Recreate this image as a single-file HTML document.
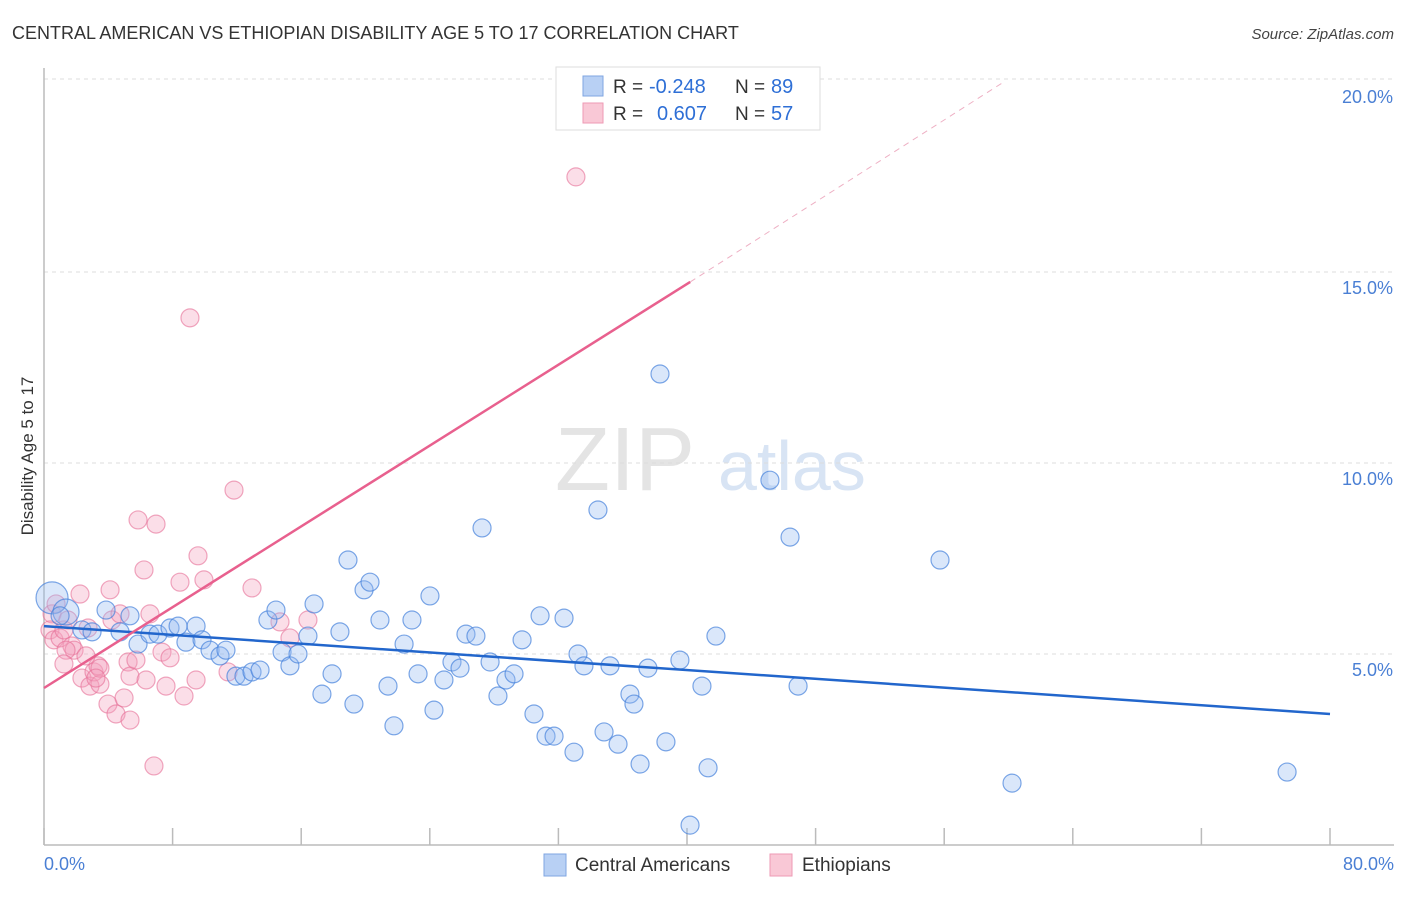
<!DOCTYPE html>
<html><head><meta charset="utf-8"><style>
body{margin:0;background:#fff;font-family:"Liberation Sans",sans-serif}
svg text{font-family:"Liberation Sans",sans-serif}
</style></head><body>
<svg width="1406" height="892" xmlns="http://www.w3.org/2000/svg">
<text x="12" y="39" font-size="18" fill="#333">CENTRAL AMERICAN VS ETHIOPIAN DISABILITY AGE 5 TO 17 CORRELATION CHART</text>
<text x="1394" y="39" font-size="15" fill="#444" text-anchor="end" font-style="italic">Source: ZipAtlas.com</text>
<text x="555" y="490" font-size="90" fill="#e4e4e4" font-family="Liberation Serif">ZIP</text>
<text x="718" y="490" font-size="70" fill="#d8e4f4">atlas</text>
<g id="grid"></g>
<line x1="44" y1="68" x2="44" y2="845" stroke="#bbb" stroke-width="1.5"/>
<line x1="44" y1="845" x2="1394" y2="845" stroke="#bbb" stroke-width="1.5"/>
<g id="xticks"></g>
<text transform="translate(33,456) rotate(-90)" font-size="17" fill="#333" text-anchor="middle">Disability Age 5 to 17</text>
<text x="44" y="870" font-size="18" fill="#4a7fd4">0.0%</text>
<text x="1394" y="870" font-size="18" fill="#4a7fd4" text-anchor="end">80.0%</text>
<g id="pts"></g>
<g id="lines"></g>
<g>
<rect x="556" y="67" width="264" height="63" fill="#fff" stroke="#ddd"/>
<rect x="583" y="76" width="20" height="20" fill="#b8d0f4" stroke="#7fa6e2"/>
<rect x="583" y="103" width="20" height="20" fill="#f9c8d6" stroke="#ee9ab4"/>
<text x="613" y="93" font-size="19" fill="#333">R =</text>
<text x="649" y="93" font-size="20" fill="#2e6fd6">-0.248</text>
<text x="735" y="93" font-size="19" fill="#333">N =</text>
<text x="771" y="93" font-size="20" fill="#2e6fd6">89</text>
<text x="613" y="120" font-size="19" fill="#333">R =</text>
<text x="657" y="120" font-size="20" fill="#2e6fd6">0.607</text>
<text x="735" y="120" font-size="19" fill="#333">N =</text>
<text x="771" y="120" font-size="20" fill="#2e6fd6">57</text>
</g>
<g>
<rect x="544" y="854" width="22" height="22" fill="#b8d0f4" stroke="#7fa6e2"/>
<text x="575" y="871" font-size="19" fill="#333">Central Americans</text>
<rect x="770" y="854" width="22" height="22" fill="#f9c8d6" stroke="#ee9ab4"/>
<text x="802" y="871" font-size="19" fill="#333">Ethiopians</text>
</g>
</svg>
<script>
const yTicks=[5,10,15,20];
const yTickLabels=["5.0%","10.0%","15.0%","20.0%"];
const blueX=[0.5,1.37,1.0,3.86,2.36,2.99,4.73,5.35,5.85,6.59,7.09,7.84,8.34,8.83,9.46,9.83,10.33,10.95,11.32,11.94,12.44,12.94,13.44,13.93,14.43,14.81,15.3,15.8,16.42,16.8,17.29,17.92,18.41,18.91,19.28,19.91,20.28,20.9,21.4,21.77,22.4,22.89,23.27,24.01,24.26,24.88,25.38,25.88,26.25,26.87,27.25,27.75,28.24,28.74,29.24,29.74,30.48,30.86,31.23,31.73,32.35,32.97,33.22,33.59,34.46,34.84,35.21,35.71,36.45,36.7,37.08,37.57,38.32,38.69,39.56,40.19,40.93,41.31,41.8,45.16,46.41,46.91,55.74,60.22,77.33];
const blueY=[6.47,6.1,6.0,6.15,5.63,5.58,5.58,6.0,5.26,5.52,5.52,5.68,5.73,5.31,5.73,5.37,5.1,4.95,5.1,4.42,4.42,4.53,4.58,5.89,6.15,5.05,4.69,5.0,5.47,6.31,3.95,4.48,5.58,7.46,3.69,6.68,6.88,5.89,4.16,3.12,5.26,5.89,4.48,6.52,3.53,4.32,4.79,4.63,5.52,5.47,8.3,4.79,3.9,4.32,4.48,5.37,3.43,6.0,2.85,2.85,5.94,2.43,5.0,4.69,8.77,2.96,4.69,2.64,3.95,3.69,2.12,4.63,12.33,2.7,4.84,0.52,4.16,2.02,5.47,9.55,8.06,4.16,7.46,1.62,1.91];
const blueR=[16,13];
const pinkX=[0.5,0.37,0.62,1.0,1.24,1.49,1.74,1.87,2.24,2.36,2.74,2.86,3.11,3.36,3.48,3.98,4.23,4.48,4.73,4.98,5.23,5.35,5.35,5.72,5.85,6.22,6.35,6.59,6.84,6.97,7.34,7.59,7.84,8.46,8.71,9.08,9.46,9.58,9.95,11.45,11.82,12.94,14.68,15.3,16.42,33.09,0.75,3.48,1.37,4.11,3.23,1.24,2.61];
const pinkY=[6.05,5.63,5.37,5.42,5.63,5.89,5.21,5.1,6.57,4.37,5.68,4.16,4.53,4.69,4.21,3.69,5.89,3.43,6.05,3.85,4.79,3.27,4.42,4.84,8.51,7.2,4.32,6.05,2.07,8.4,5.05,4.16,4.9,6.88,3.9,13.8,4.32,7.57,6.94,4.53,9.29,6.73,5.84,5.42,5.89,17.49,6.31,4.63,5.1,6.68,4.37,4.74,4.95];
const blueTrend=[[0,5.73],[80,3.43]];
const pinkTrend=[[0,4.11],[40.2,14.74]];
const pinkTrendExt=[[40.2,14.74],[59.8,20.0]];
const NS="http://www.w3.org/2000/svg";
const sx=v=>44+v*(1286/80), sy=v=>845-v*38.2;
function mk(tag,attrs,parent){const e=document.createElementNS(NS,tag);for(const k in attrs)e.setAttribute(k,attrs[k]);document.getElementById(parent).appendChild(e);return e;}
yTicks.forEach((t,i)=>{
 const g=mk('line',{x1:44,x2:1394,y1:sy(t)-(t==20?2:0),y2:sy(t)-(t==20?2:0),stroke:'#ddd','stroke-dasharray':'4,4'},'grid');
 
 
 const l=mk('text',{x:1393,y:sy(t)+22,'font-size':18,fill:'#4a7fd4','text-anchor':'end'},'grid');
 l.textContent=yTickLabels[i];
 
 
});
for(let i=0;i<=10;i++){
 const t=mk('line',{x1:sx(i*8),x2:sx(i*8),y1:828,y2:845,stroke:'#bbb','stroke-width':1.5},'xticks');
 
 
}
pinkX.forEach((x,i)=>{
 const c=mk('circle',{cx:sx(x),cy:sy(pinkY[i]),r:9,fill:'rgba(244,160,188,0.35)',stroke:'rgba(230,110,150,0.6)','stroke-width':1.2},'pts');
 
 
});
blueX.forEach((x,i)=>{
 const c=mk('circle',{cx:sx(x),cy:sy(blueY[i]),r:blueR[i]||9,fill:'rgba(150,185,240,0.35)',stroke:'rgba(70,130,220,0.7)','stroke-width':1.2},'pts');
 
 
});
function ln(p,st,w,dash,name){const l=mk('line',{x1:sx(p[0][0]),y1:sy(p[0][1]),x2:sx(p[1][0]),y2:sy(p[1][1]),stroke:st,'stroke-width':w},'lines');if(dash)l.setAttribute('stroke-dasharray',dash);
 
 }
ln(blueTrend,'#2266cc',2.5,null,'central-american-trendline');
ln(pinkTrend,'#e8608e',2.5,null,'ethiopian-trendline');
ln(pinkTrendExt,'#eeb0c4',1,'6,5','ethiopian-trendline-extension');
</script>
</body></html>
